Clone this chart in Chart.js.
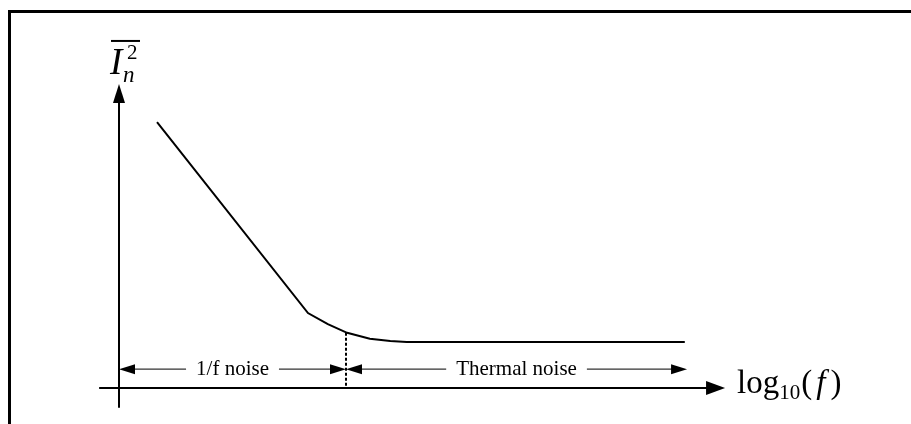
<!DOCTYPE html>
<html>
<head>
<meta charset="utf-8">
<script src="https://cdn.jsdelivr.net/npm/chart.js@4"></script>
<style>
  body { margin: 0; background: #fff; }
  #wrap { position: relative; width: 911px; height: 424px; }
  #frame {
    position: absolute; left: 8px; top: 10px; right: 0; bottom: 0;
    border-left: 3px solid #000; border-top: 3px solid #000;
    pointer-events: none;
  }
</style>
</head>
<body>
<div id="wrap">
  <canvas id="grafico"></canvas>
  <div id="frame"></div>
</div>
<script>
// curva de ruído (x = log10 f, y = nível de ruído, unidades arbitrárias)
const curvaX = [0.67, 3.33, 3.68, 4.02, 4.42, 4.78, 5.07, 9.97];
const curvaY = [5.78, 1.63, 1.39, 1.20, 1.07, 1.02, 1.00, 1.00];

// eixos desenhados à mão (início e ponta da seta)
const eixoX = [-0.35, 10.68];
const eixoY = [-0.43, 6.61];

// regiões: 1/f e térmica, separadas pela frequência de canto
const limitesRegiao = [0, 4.0, 10.01];
const nomesRegiao = ['1/f noise', 'Thermal noise'];
const alturaRegiao = 0.41;
const nivelCanto = 1.20;

const SERIF = '"Liberation Serif", "DejaVu Serif", serif';

function seta(ctx, x, y, ang, comp, meia) {
  ctx.save();
  ctx.translate(x, y);
  ctx.rotate(ang);
  ctx.beginPath();
  ctx.moveTo(0, 0);
  ctx.lineTo(-comp, -meia);
  ctx.lineTo(-comp, meia);
  ctx.closePath();
  ctx.fillStyle = '#000';
  ctx.fill();
  ctx.restore();
}

const pluginDesenho = {
  id: 'desenho',
  afterDatasetsDraw(chart) {
    const ctx = chart.ctx;
    const sx = chart.scales.x;
    const sy = chart.scales.y;
    const x0 = sx.getPixelForValue(0);
    const y0 = sy.getPixelForValue(0);

    ctx.save();
    ctx.strokeStyle = '#000';
    ctx.lineWidth = 2;

    // eixo x
    const xa = sx.getPixelForValue(eixoX[0]);
    const xb = sx.getPixelForValue(eixoX[1]);
    ctx.beginPath();
    ctx.moveTo(xa, y0);
    ctx.lineTo(xb - 10, y0);
    ctx.stroke();
    seta(ctx, xb, y0, 0, 19, 7);

    // eixo y
    const ya = sy.getPixelForValue(eixoY[0]);
    const yb = sy.getPixelForValue(eixoY[1]);
    ctx.beginPath();
    ctx.moveTo(x0, ya);
    ctx.lineTo(x0, yb + 10);
    ctx.stroke();
    seta(ctx, x0, yb, -Math.PI / 2, 19, 6);

    // linha tracejada da frequência de canto
    const xc = sx.getPixelForValue(limitesRegiao[1]);
    ctx.setLineDash([3, 2]);
    ctx.beginPath();
    ctx.moveTo(xc, sy.getPixelForValue(nivelCanto));
    ctx.lineTo(xc, y0);
    ctx.stroke();
    ctx.setLineDash([]);

    // cotas das regiões
    const yr = sy.getPixelForValue(alturaRegiao);
    ctx.font = '21px ' + SERIF;
    ctx.textBaseline = 'middle';
    ctx.textAlign = 'center';
    nomesRegiao.forEach((nome, i) => {
      const a = sx.getPixelForValue(limitesRegiao[i]);
      const b = sx.getPixelForValue(limitesRegiao[i + 1]);
      const meio = (a + b) / 2;
      const w = ctx.measureText(nome).width / 2 + 10;
      ctx.strokeStyle = '#333';
      ctx.lineWidth = 1.2;
      ctx.beginPath();
      ctx.moveTo(a + 8, yr);
      ctx.lineTo(meio - w, yr);
      ctx.moveTo(meio + w, yr);
      ctx.lineTo(b - 8, yr);
      ctx.stroke();
      seta(ctx, a, yr, Math.PI, 16, 5);
      seta(ctx, b, yr, 0, 16, 5);
      ctx.fillStyle = '#000';
      ctx.fillText(nome, meio, yr);
    });

    // rótulo do eixo y: I_n^2 com barra
    ctx.textAlign = 'left';
    ctx.textBaseline = 'alphabetic';
    ctx.fillStyle = '#000';
    ctx.font = 'italic 37px ' + SERIF;
    ctx.fillText('I', x0 - 9, yb - 10);
    ctx.font = '21px ' + SERIF;
    ctx.fillText('2', x0 + 8, yb - 25);
    ctx.font = 'italic 23px ' + SERIF;
    ctx.fillText('n', x0 + 4, yb - 2);
    ctx.fillRect(x0 - 8, yb - 44, 29, 2);

    // rótulo do eixo x: log10(f)
    let px = xb + 12;
    const base = y0 + 5;
    ctx.font = '33px ' + SERIF;
    ctx.fillText('log', px, base);
    px += ctx.measureText('log').width;
    ctx.font = '21px ' + SERIF;
    ctx.fillText('10', px, base + 6);
    px += ctx.measureText('10').width + 1;
    ctx.font = '33px ' + SERIF;
    ctx.fillText('(', px, base);
    px += ctx.measureText('(').width + 4;
    ctx.font = 'italic 33px ' + SERIF;
    ctx.fillText('f', px, base);
    px += ctx.measureText('f').width + 5;
    ctx.font = '33px ' + SERIF;
    ctx.fillText(')', px, base);

    ctx.restore();
  }
};

const ctx = document.getElementById('grafico').getContext('2d');
new Chart(ctx, {
  type: 'line',
  data: {
    datasets: [{
      data: curvaX.map((x, i) => ({ x, y: curvaY[i] })),
      borderColor: '#000',
      borderWidth: 2,
      pointRadius: 0,
      tension: 0,
      fill: false
    }]
  },
  options: {
    responsive: true,
    maintainAspectRatio: false,
    animation: false,
    layout: { padding: 0 },
    plugins: {
      legend: { display: false },
      tooltip: { enabled: false }
    },
    scales: {
      x: { type: 'linear', min: -2.097, max: 13.956, display: false },
      y: { type: 'linear', min: -0.783, max: 8.435, display: false }
    }
  },
  plugins: [pluginDesenho]
});
</script>
</body>
</html>
